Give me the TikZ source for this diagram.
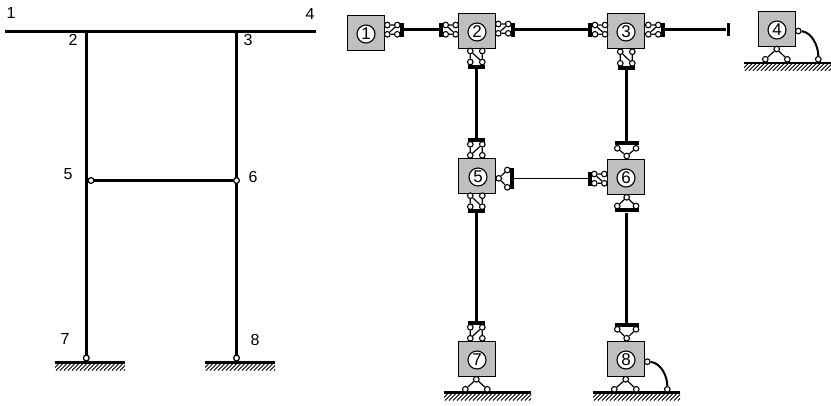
\documentclass[tikz,border=0pt]{standalone}
\usepackage{fontspec}
\setmainfont{Liberation Sans}
\tikzset{
  x=1pt,y=-1pt,
  beam/.style={line width=3.4pt,line cap=butt},
  thinbeam/.style={line width=1.3pt},
  rung/.style={line width=1.2pt},
  pinnode/.style={circle,draw=black,fill=white,line width=1.1pt,minimum size=5.6pt,inner sep=0pt},
  hbar/.style={fill=black,inner sep=0pt,minimum width=16.5pt,minimum height=3.8pt},
  widebar/.style={fill=black,inner sep=0pt,minimum width=24pt,minimum height=4pt},
  vbar/.style={fill=black,inner sep=0pt,minimum width=4pt,minimum height=14pt},
  tallbar/.style={fill=black,inner sep=0pt,minimum width=4pt,minimum height=21pt},
  blockbox/.style={draw=black,fill=boxgray,line width=1pt,inner sep=0pt,minimum width=37pt,minimum height=35pt},
  idcircle/.style={circle,draw=black,fill=white,line width=1.1pt,minimum size=18pt,inner sep=0pt,font=\fontsize{17}{17}\selectfont},
  numlabel/.style={inner sep=0pt,font=\fontsize{16}{16}\selectfont},
  ground/.style={line width=2.2pt},
  hatch/.style={line width=0.8pt},
  spring/.style={line width=2pt}
}
\definecolor{boxgray}{gray}{0.75}
% horizontal link: pins at the corners, rungs horizontal, diagonal (x1,y1)-(x2,y2)
\newcommand\hlink[5]{%
  \node[pinnode] (#1a) at (#2,#3) {};
  \node[pinnode] (#1b) at (#4,#3) {};
  \node[pinnode] (#1c) at (#4,#5) {};
  \node[pinnode] (#1d) at (#2,#5) {};
  \draw[rung] (#1a) -- (#1b) (#1d) -- (#1c) (#1a) -- (#1c);
}
% vertical link: rungs vertical
\newcommand\vlink[5]{%
  \node[pinnode] (#1a) at (#2,#3) {};
  \node[pinnode] (#1b) at (#4,#3) {};
  \node[pinnode] (#1c) at (#4,#5) {};
  \node[pinnode] (#1d) at (#2,#5) {};
  \draw[rung] (#1a) -- (#1d) (#1b) -- (#1c) (#1a) -- (#1c);
}
% triangle of rods: apex #2,#3; other pins #4,#5 and #6,#7
\newcommand\trilink[7]{%
  \node[pinnode] (#1a) at (#2,#3) {};
  \node[pinnode] (#1b) at (#4,#5) {};
  \node[pinnode] (#1c) at (#6,#7) {};
  \draw[rung] (#1a) -- (#1b) (#1a) -- (#1c);
}
% ground: x1,x2,y
\newcommand\groundline[3]{%
  \begin{scope}
    \clip (#1,#3) rectangle (#2,#3+8);
    \foreach \hx in {0,4,...,100} {\draw[hatch] (#1+\hx-3,#3+8) -- (#1+\hx+5,#3);}
  \end{scope}
  \draw[ground] (#1,#3) -- (#2,#3);
}
\begin{document}
\begin{tikzpicture}
\useasboundingbox (0,0) rectangle (831,405);
%% ---------- left frame ----------
\coordinate (f1) at (5,31.5);
\coordinate (f4) at (316,31.5);
\coordinate (f2) at (86.3,31.5);
\coordinate (f3) at (236.5,31.5);
\node[pinnode] (f5) at (91,180.5) {};
\node[pinnode] (f6) at (236.5,180.5) {};
\node[pinnode] (f7) at (86.3,358) {};
\node[pinnode] (f8) at (236.5,358) {};
\draw[beam] (f1) -- (f4);
\draw[beam] (f2) -- (f7);
\draw[beam] (f3) -- (f8);
\draw[beam] (f5) -- (f6);
\node[pinnode] at (f5) {};
\node[pinnode] at (f6) {};
\node[pinnode] at (f7) {};
\node[pinnode] at (f8) {};
\groundline{55}{125}{362.5}
\groundline{205}{275}{362.5}
\node[numlabel] (l1) at (11,12.5) {1};
\node[numlabel] (l2) at (73,40) {2};
\node[numlabel] (l3) at (248,40) {3};
\node[numlabel] (l4) at (310,14) {4};
\node[numlabel] (l5) at (68,174) {5};
\node[numlabel] (l6) at (253,177) {6};
\node[numlabel] (l7) at (65,339) {7};
\node[numlabel] (l8) at (255,340) {8};
%% ---------- blocks ----------
\node[blockbox] (b1) at (366.3,32.5) {};
\node[blockbox] (b2) at (477,30.5) {};
\node[blockbox] (b3) at (626,30.5) {};
\node[blockbox] (b4) at (776.5,28.5) {};
\node[blockbox] (b5) at (476.5,175.5) {};
\node[blockbox] (b6) at (625.5,176.5) {};
\node[blockbox] (b7) at (476.5,359) {};
\node[blockbox] (b8) at (625.5,359) {};
\node[idcircle] (c1) at (366,34) {1};
\node[idcircle] (c2) at (477,32) {2};
\node[idcircle] (c3) at (626,32) {3};
\node[idcircle] (c4) at (777,30) {4};
\node[idcircle] (c5) at (478,177) {5};
\node[idcircle] (c6) at (626,178) {6};
\node[idcircle] (c7) at (477,360) {7};
\node[idcircle] (c8) at (626,360) {8};
%% ---------- bars ----------
\node[vbar] (r1) at (401.5,29.5) {};
\node[vbar] (r2l) at (441.3,29.5) {};
\node[vbar] (r2r) at (512.7,29.5) {};
\node[vbar] (r3l) at (590,29.5) {};
\node[vbar] (r3r) at (663,29.5) {};
\node[inner sep=0pt,fill=black,minimum width=3.4pt,minimum height=13.5pt] (r3e) at (728.3,29.5) {};
\node[hbar] (d2) at (476.7,66.8) {};
\node[hbar] (d3) at (626.7,67.6) {};
\node[hbar] (u5) at (476.7,140.3) {};
\node[hbar] (d5) at (476.7,210.8) {};
\node[hbar] (u7) at (476.7,323) {};
\node[widebar] (u6) at (626.7,143.3) {};
\node[widebar] (d6) at (626.7,210.3) {};
\node[widebar] (u8) at (626.7,325.3) {};
\node[tallbar] (r5) at (512,178.7) {};
\node[vbar] (r6) at (590.3,179) {};
%% ---------- links ----------
\hlink{k1}{397.3}{25}{387.3}{34.3}
\hlink{k2l}{445.7}{25}{455.7}{34.3}
\hlink{k2r}{508.3}{24}{498.3}{33.3}
\hlink{k3l}{595}{25}{605}{34.3}
\hlink{k3r}{658.3}{25}{648.3}{34.3}
\hlink{k6}{594.3}{174}{604.3}{183.3}
\vlink{k2d}{470.3}{51}{482.3}{62}
\vlink{k3d}{620.3}{51.7}{632.3}{63.3}
\vlink{k5u}{482.3}{144.3}{470.3}{155.3}
\vlink{k5d}{470.3}{195.7}{482.3}{206.7}
\vlink{k7u}{482.3}{327.3}{470.3}{338.3}
\trilink{k5r}{498.7}{178.3}{507.3}{170}{507.3}{187.3}
\trilink{k6u}{626.7}{156}{617.3}{148.3}{636}{148.3}
\trilink{k6d}{626.7}{197.3}{617.3}{206}{636}{206}
\trilink{k8u}{626.7}{338.3}{617.3}{329.3}{636}{329.3}
%% ---------- rods ----------
\draw[beam] (r1) -- (r2l);
\draw[beam] (r2r) -- (r3l);
\draw[beam] (r3r) -- (r3e);
\draw[beam] (d2) -- (u5);
\draw[beam] (d3) -- (u6);
\draw[beam] (d5) -- (u7);
\draw[beam] (d6) -- (u8);
\draw[thinbeam] (r5.east |- 0,178.8) -- (r6.west |- 0,178.8);
%% ---------- supports ----------
\groundline{444}{531}{392.5}
\groundline{593}{680}{392.5}
\groundline{744}{831}{62.8}
\trilink{s7}{476.3}{379.3}{465.3}{389.3}{487.3}{389.3}
\trilink{s8}{625.7}{379.3}{614.3}{389.3}{636.3}{389.3}
\trilink{s4}{776.7}{49}{765.3}{59.3}{787.3}{59.3}
\node[pinnode] (p4a) at (798.3,31) {};
\node[pinnode] (p4b) at (818.3,59.3) {};
\node[pinnode] (p8a) at (647.3,361.7) {};
\node[pinnode] (p8b) at (667.3,389.3) {};
\draw[spring] (p4a) .. controls +(13,1) and +(0,-14) .. (p4b);
\draw[spring] (p8a) .. controls +(13,1) and +(0,-14) .. (p8b);
\end{tikzpicture}
\end{document}
